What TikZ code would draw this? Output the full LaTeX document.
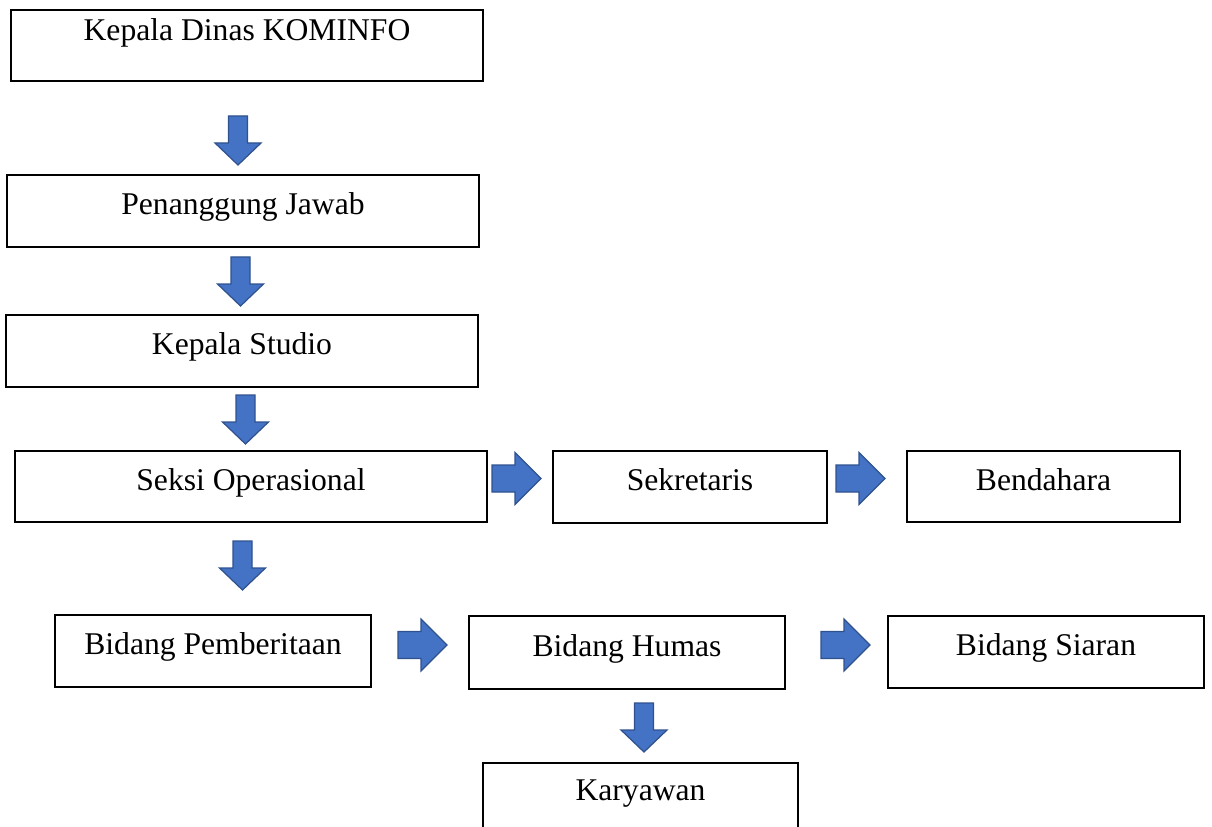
\documentclass[tikz,border=0pt]{standalone}
\usepackage{fontspec}
\setmainfont{Liberation Serif}
\definecolor{arrfill}{HTML}{4472C4}
\definecolor{arrline}{HTML}{2F528F}
\tikzset{
  box/.style={draw=black, line width=0.8pt, fill=white, inner sep=0pt,
    font=\fontsize{18}{22}\selectfont, text height=12pt, text depth=7.5pt},
  blockarrow/.style={fill=arrfill, draw=arrline, line width=0.7pt, line join=miter},
  darr/.pic={\path[blockarrow] (-9.5,0) -- (9.5,0) -- (9.5,27) -- (23,27) -- (0,49) -- (-23,27) -- (-9.5,27) -- cycle;},
  rarr/.pic={\path[blockarrow] (0,-13.5) -- (23,-13.5) -- (23,-26) -- (49,0) -- (23,26) -- (23,13.5) -- (0,13.5) -- cycle;}
}
\begin{document}
\begin{tikzpicture}[x=0.02cm, y=-0.02cm]
\useasboundingbox (0,0) rectangle (1212,827);
% boxes
\node[box, minimum width=472*0.02cm, minimum height=71*0.02cm, text depth=17.6pt] (k1) at (247,45.5) {Kepala Dinas KOMINFO};
\node[box, minimum width=472*0.02cm, minimum height=72*0.02cm] (k2) at (243,211) {Penanggung Jawab};
\node[box, minimum width=472*0.02cm, minimum height=72*0.02cm] (k3) at (242,351) {Kepala Studio};
\node[box, minimum width=472*0.02cm, minimum height=71*0.02cm] (k4) at (251,486.5) {Seksi Operasional};
\node[box, minimum width=274*0.02cm, minimum height=72*0.02cm] (k5) at (690,487) {Sekretaris};
\node[box, minimum width=273*0.02cm, minimum height=71*0.02cm] (k6) at (1043.5,486.5) {Bendahara};
\node[box, minimum width=316*0.02cm, minimum height=72*0.02cm] (k7) at (213,651) {Bidang Pemberitaan};
\node[box, minimum width=316*0.02cm, minimum height=73*0.02cm] (k8) at (627,652.5) {Bidang Humas};
\node[box, minimum width=316*0.02cm, minimum height=72*0.02cm] (k9) at (1046,652) {Bidang Siaran};
\node[box, minimum width=315*0.02cm, minimum height=68*0.02cm] (k10) at (640.5,797) {Karyawan};
% down arrows
\pic at (238,116) {darr};
\pic at (240.5,257) {darr};
\pic at (245.5,395) {darr};
\pic at (242.5,541) {darr};
\pic at (644,703) {darr};
% right arrows
\pic at (492,478.5) {rarr};
\pic at (836,478.5) {rarr};
\pic at (398,645) {rarr};
\pic at (821,645) {rarr};
\end{tikzpicture}
\end{document}
